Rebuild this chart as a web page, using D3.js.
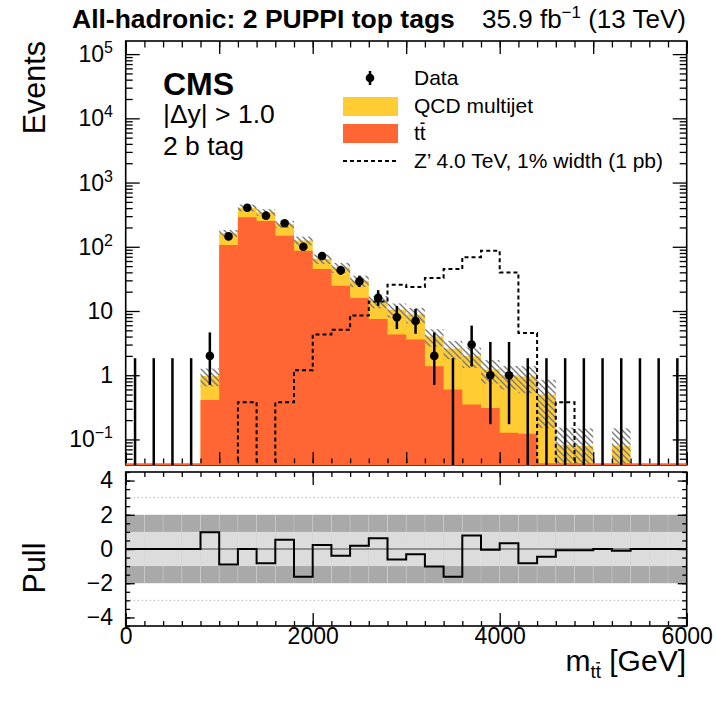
<!DOCTYPE html>
<html>
<head>
<meta charset="utf-8">
<script src="https://cdn.jsdelivr.net/npm/d3@7"></script>
<style>
  body { margin: 0; background: #fff; }
  svg { display: block; }
</style>
</head>
<body>
<svg id="chart" width="716" height="705"></svg>
<script>
// ---------------- data ----------------
const binLow = [0, 200, 400, 600, 800, 1000, 1200, 1400, 1600, 1800,
                2000, 2200, 2400, 2600, 2800, 3000, 3200, 3400, 3600, 3800,
                4000, 4200, 4400, 4600, 4800, 5000, 5200, 5400, 5600, 5800];
const binHigh = 6000;
const dataCounts = [0, 0, 0, 0, 2, 145, 405, 305, 232, 100,
                    72, 43, 29, 16, 8, 7, 2, 0, 3, 1,
                    1, 0, 0, 0, 0, 0, 0, 0, 0, 0];
const ttbar = [0, 0, 0, 0, 0.41, 107, 288, 252, 148, 87,
               45, 24.7, 15.9, 7.5, 4.3, 3.6, 1.38, 0.6, 0.35, 0.31,
               0.127, 0.123, 0, 0, 0, 0, 0, 0, 0, 0];
const qcd = [0, 0, 0, 0, 0.56, 56, 117, 92, 76, 38,
             20, 22.8, 13.6, 6.6, 6.2, 5.2, 2.62, 2.0, 1.65, 0.92,
             0.87, 0.83, 0.5, 0.083, 0.079, 0, 0.079, 0, 0, 0];
const bkgUnc = [0, 0, 0, 0, 0.3, 20, 50, 41, 29, 19,
                11, 8.5, 5.9, 3.1, 2.6, 2.4, 1.2, 0.83, 0.7, 0.49,
                0.4, 0.43, 0.35, 0.07, 0.07, 0, 0.07, 0, 0, 0];
const zprime = [0, 0, 0, 0, 0, 0, 0.38, 0, 0.38, 1.2,
                4.3, 5.1, 8.5, 14, 25.6, 23.6, 32.5, 45, 69, 86.5,
                39.7, 4.55, 0, 0.38, 0, 0, 0, 0, 0, 0];
const pull = [0, 0, 0, 0, 0.98, -0.9, 0, -0.83, 0.54, -1.62,
              0.23, -0.4, 0.19, 0.63, -0.62, -0.31, -1.02, -1.62, 0.79, -0.04,
              0.33, -0.83, -0.46, -0.08, -0.08, 0, -0.1, 0, 0, 0];
const xMajorUpper = [0, 1000, 2000, 3000, 4000, 5000, 6000];
const xLabelTicks = [0, 2000, 4000, 6000];
const yDecades = [-1, 0, 1, 2, 3, 4, 5];
const pullTicks = [-4, -2, 0, 2, 4];

// ---------------- layout ----------------
const FONT = '"Liberation Sans", Arial, Helvetica, sans-serif';
const YELLOW = '#ffcc33', RED = '#ff6633';
const X0 = 125.7, X1 = 686.7, T = 41, B = 465, PT = 472, PB = 626;
const yMin = 0.04, yMax = 1.6e5;

const svg = d3.select('#chart');
svg.append('rect').attr('width', 716).attr('height', 705).attr('fill', '#fff');

const x = d3.scaleLinear().domain([0, binHigh]).range([X0, X1]);
const y = d3.scaleLog().domain([yMin, yMax]).range([B, T]);
const yp = d3.scaleLinear().domain([-4.5, 4.5]).range([PB, PT]);
const yv = v => y(Math.min(Math.max(v, yMin), yMax));
const binHi = i => (i + 1 < binLow.length ? binLow[i + 1] : binHigh);

const defs = svg.append('defs');
defs.append('clipPath').attr('id', 'upClip').append('rect')
  .attr('x', X0).attr('y', T).attr('width', X1 - X0).attr('height', B - T);
const pat = defs.append('pattern').attr('id', 'hatch').attr('patternUnits', 'userSpaceOnUse')
  .attr('width', 6).attr('height', 6);
pat.append('path').attr('d', 'M0,0 L6,6 M-1,5 L1,7 M5,-1 L7,1')
  .attr('stroke', '#7a7a7a').attr('stroke-width', 1.4);

// ---------------- upper pad ----------------
const up = svg.append('g').attr('clip-path', 'url(#upClip)');
const total = qcd.map((q, i) => q + ttbar[i]);
const stepPts = (vals, from = 0) => binLow.slice(from).map((e, k) => ({ e, v: vals[from + k] }))
  .concat([{ e: binHigh, v: vals[vals.length - 1] }]);
const area = d3.area().x(d => x(d.e)).y0(B).y1(d => yv(d.v)).curve(d3.curveStepAfter);
up.append('path').attr('d', area(stepPts(total))).attr('fill', YELLOW);
up.append('path').attr('d', area(stepPts(ttbar))).attr('fill', RED);

// uncertainty hatch
up.selectAll('rect.unc').data(binLow.map((e, i) => i).filter(i => bkgUnc[i] > 0)).enter()
  .append('rect').attr('class', 'unc')
  .attr('x', i => x(binLow[i])).attr('width', i => x(binHi(i)) - x(binLow[i]))
  .attr('y', i => yv(total[i] + bkgUnc[i]))
  .attr('height', i => yv(total[i] - bkgUnc[i]) - yv(total[i] + bkgUnc[i]))
  .attr('fill', 'url(#hatch)');

// axis tick helpers
function xTicks(yPos, orient, values, size, scaleX) {
  const ax = (orient === 'bottom' ? d3.axisBottom(scaleX) : d3.axisTop(scaleX))
    .tickValues(values).tickSize(-size).tickFormat('');
  const gg = svg.append('g').attr('transform', `translate(0,${yPos})`).call(ax);
  gg.select('.domain').remove();
  gg.selectAll('line').attr('stroke', '#000').attr('stroke-width', 1.3);
  return gg;
}
function yTicks(xPos, orient, scaleY, values, size) {
  const ax = (orient === 'left' ? d3.axisLeft(scaleY) : d3.axisRight(scaleY))
    .tickValues(values).tickSize(-size).tickFormat('');
  const gg = svg.append('g').attr('transform', `translate(${xPos},0)`).call(ax);
  gg.select('.domain').remove();
  gg.selectAll('line').attr('stroke', '#000').attr('stroke-width', 1.3);
  return gg;
}
const xMinor = binLow.concat([binHigh]);
xTicks(B, 'bottom', xMinor, 6.5, x);
xTicks(B, 'bottom', xMajorUpper, 13, x);
xTicks(T, 'top', xMinor, 6.5, x);
xTicks(T, 'top', xMajorUpper, 13, x);
const yMajorVals = yDecades.map(p => Math.pow(10, p));
const yMinorVals = [];
[-2, -1, 0, 1, 2, 3, 4, 5].forEach(p => { for (let m = 2; m <= 9; m++) { const v = m * Math.pow(10, p); if (v > yMin && v < yMax) yMinorVals.push(v); } });
yTicks(X0, 'left', y, yMinorVals, 7);
yTicks(X0, 'left', y, yMajorVals, 14);
yTicks(X1, 'right', y, yMinorVals, 7);
yTicks(X1, 'right', y, yMajorVals, 14);

// Z' signal
const zline = d3.line().x(d => x(d.e)).y(d => yv(d.v)).curve(d3.curveStepAfter);
svg.append('g').attr('clip-path', 'url(#upClip)').append('path')
  .attr('d', zline(stepPts(zprime, 4)))
  .attr('fill', 'none').attr('stroke', '#000').attr('stroke-width', 2).attr('stroke-dasharray', '4,3');

// frame
svg.append('rect').attr('x', X0).attr('y', T).attr('width', X1 - X0).attr('height', B - T)
  .attr('fill', 'none').attr('stroke', '#000').attr('stroke-width', 1.6);
svg.append('line').attr('x1', X0).attr('x2', X1).attr('y1', B - 0.8).attr('y2', B - 0.8)
  .attr('stroke', RED).attr('stroke-width', 2);

// data (Garwood 68% intervals)
const lnF = [0]; for (let i = 1; i < 1000; i++) lnF[i] = lnF[i - 1] + Math.log(i);
function cdf(k, mu) { if (k < 0) return 0; let s = 0; for (let i = 0; i <= k; i++) s += Math.exp(-mu + i * Math.log(mu) - lnF[i]); return s; }
function garwood(n) {
  const a = 0.158655;
  let lo = n, hi = n + 6 * Math.sqrt(n + 1) + 10;
  for (let it = 0; it < 80; it++) { const m = (lo + hi) / 2; if (cdf(n, m) > a) lo = m; else hi = m; }
  const up = (lo + hi) / 2;
  let dn = 0;
  if (n > 0) {
    lo = 1e-9; hi = n;
    for (let it = 0; it < 80; it++) { const m = (lo + hi) / 2; if (cdf(n - 1, m) > 1 - a) lo = m; else hi = m; }
    dn = (lo + hi) / 2;
  }
  return [dn, up];
}
const dg = svg.append('g');
dataCounts.forEach((n, i) => {
  const cx = x((binLow[i] + binHi(i)) / 2);
  const [lo, hi] = garwood(n);
  dg.append('line').attr('x1', cx).attr('x2', cx)
    .attr('y1', n > 0 ? yv(lo) : B).attr('y2', yv(hi))
    .attr('stroke', '#000').attr('stroke-width', 2.5);
  if (n > 0) dg.append('circle').attr('cx', cx).attr('cy', yv(n)).attr('r', 4.3).attr('fill', '#000');
});

// y labels upper
yDecades.forEach(p => {
  const t = svg.append('text').attr('x', 113).attr('y', y(Math.pow(10, p)) + 8)
    .attr('text-anchor', 'end').attr('font-family', FONT).attr('font-size', 23).attr('fill', '#000');
  if (p === 0) t.text('1');
  else if (p === 1) t.text('10');
  else {
    t.append('tspan').text('10');
    t.append('tspan').attr('font-size', 16).attr('dy', -9).text(p < 0 ? '\u2212' + (-p) : String(p));
  }
});

// ---------------- pull pad ----------------
const pg = svg.append('g');
binLow.forEach((e, i) => {
  pg.append('rect').attr('x', x(e)).attr('width', x(binHi(i)) - x(e))
    .attr('y', yp(2)).attr('height', yp(-2) - yp(2)).attr('fill', '#a9a9a9');
  pg.append('rect').attr('x', x(e)).attr('width', x(binHi(i)) - x(e))
    .attr('y', yp(1)).attr('height', yp(-1) - yp(1)).attr('fill', '#dcdcdc');
});
binLow.slice(1).forEach(e => {
  pg.append('line').attr('x1', x(e)).attr('x2', x(e)).attr('y1', yp(2)).attr('y2', yp(-2))
    .attr('stroke', '#fff').attr('stroke-opacity', 0.18).attr('stroke-width', 1);
});
[3, -3].forEach(v => {
  pg.append('line').attr('x1', X0).attr('x2', X1).attr('y1', yp(v)).attr('y2', yp(v))
    .attr('stroke', '#b8b8b8').attr('stroke-width', 1).attr('stroke-dasharray', '1.5,2.5');
});
pg.append('line').attr('x1', X0).attr('x2', X1).attr('y1', yp(0)).attr('y2', yp(0))
  .attr('stroke', '#444').attr('stroke-width', 1);
const pline = d3.line().x(d => x(d.e)).y(d => yp(d.v)).curve(d3.curveStepAfter);
pg.append('path').attr('d', pline(stepPts(pull))).attr('fill', 'none')
  .attr('stroke', '#000').attr('stroke-width', 2);

xTicks(PB, 'bottom', xMinor, 5, x);
const xLab = d3.axisBottom(x).tickValues(xLabelTicks).tickSize(-13).tickPadding(2).tickFormat(d3.format('d'));
const gxl = svg.append('g').attr('transform', `translate(0,${PB})`).call(xLab);
gxl.select('.domain').remove();
gxl.selectAll('line').attr('stroke', '#000').attr('stroke-width', 1.3);
gxl.selectAll('text').attr('font-family', FONT).attr('font-size', 23).attr('fill', '#000');
xTicks(PT, 'top', xMinor, 5, x);
xTicks(PT, 'top', xLabelTicks, 13, x);

const pMinor = d3.range(-4.5, 4.51, 0.5);
yTicks(X0, 'left', yp, pMinor, 4.5);
const yLab = d3.axisLeft(yp).tickValues(pullTicks).tickSize(-9).tickPadding(12.7);
const gyl = svg.append('g').attr('transform', `translate(${X0},0)`).call(yLab);
gyl.select('.domain').remove();
gyl.selectAll('line').attr('stroke', '#000').attr('stroke-width', 1.3);
gyl.selectAll('text').attr('font-family', FONT).attr('font-size', 23).attr('fill', '#000');
yTicks(X1, 'right', yp, pMinor, 4.5);
yTicks(X1, 'right', yp, pullTicks, 9);

svg.append('rect').attr('x', X0).attr('y', PT).attr('width', X1 - X0).attr('height', PB - PT)
  .attr('fill', 'none').attr('stroke', '#000').attr('stroke-width', 1.6);

// ---------------- texts ----------------
function txt(xp, yp_, s, size, opts = {}) {
  const t = svg.append('text').attr('x', xp).attr('y', yp_).attr('font-family', FONT)
    .attr('font-size', size).attr('fill', '#000').text(s);
  if (opts.anchor) t.attr('text-anchor', opts.anchor);
  if (opts.bold) t.attr('font-weight', 'bold');
  if (opts.rotate) t.attr('transform', `rotate(-90,${xp},${yp_})`);
  return t;
}
txt(72, 28, 'All-hadronic: 2 PUPPI top tags', 26.5, { bold: true });
const lumi = svg.append('text').attr('x', 686).attr('y', 28).attr('text-anchor', 'end')
  .attr('font-family', FONT).attr('font-size', 26).attr('fill', '#000');
lumi.append('tspan').text('35.9 fb');
lumi.append('tspan').attr('font-size', 17).attr('dy', -10).text('\u22121');
lumi.append('tspan').attr('dy', 10).text(' (13 TeV)');

txt(45, 41, 'Events', 30.5, { anchor: 'end', rotate: true });
txt(45, 568, 'Pull', 30.5, { anchor: 'middle', rotate: true });

txt(163, 95, 'CMS', 32, { bold: true });
txt(163, 123, '|\u0394y| > 1.0', 26.5);
txt(163, 155, '2 b tag', 26.5);

// x title with overlined subscript
const xt = svg.append('text').attr('x', 686).attr('y', 671).attr('text-anchor', 'end')
  .attr('font-family', FONT).attr('font-size', 30).attr('fill', '#000');
xt.append('tspan').text('m');
xt.append('tspan').attr('font-size', 19).attr('dy', 7).text('tt');
xt.append('tspan').attr('dy', -7).text(' [GeV]');
function overline(textNode, idx, baseline, size) {
  const ext = textNode.getExtentOfChar(idx);
  svg.append('line').attr('x1', ext.x + size * 0.03).attr('x2', ext.x + ext.width - size * 0.05)
    .attr('y1', baseline - size * 0.8).attr('y2', baseline - size * 0.8)
    .attr('stroke', '#000').attr('stroke-width', Math.max(1, size * 0.07));
}
overline(xt.node(), 2, 678, 19);

// legend
const LX = 343, LW = 55, TX = 414;
svg.append('line').attr('x1', 370).attr('x2', 370).attr('y1', 71).attr('y2', 85)
  .attr('stroke', '#000').attr('stroke-width', 2.5);
svg.append('circle').attr('cx', 370).attr('cy', 78).attr('r', 4.3).attr('fill', '#000');
txt(TX, 85, 'Data', 21);
svg.append('rect').attr('x', LX).attr('y', 97).attr('width', LW).attr('height', 19).attr('fill', YELLOW);
txt(TX, 113, 'QCD multijet', 21);
svg.append('rect').attr('x', LX).attr('y', 124).attr('width', LW).attr('height', 19).attr('fill', RED);
const ttl = txt(TX, 140, 'tt', 21);
overline(ttl.node(), 1, 140, 21);
svg.append('line').attr('x1', LX).attr('x2', LX + LW - 1).attr('y1', 161).attr('y2', 161)
  .attr('stroke', '#000').attr('stroke-width', 2).attr('stroke-dasharray', '4,3');
txt(TX, 168, 'Z\u2019 4.0 TeV, 1% width (1 pb)', 21);
</script>
</body>
</html>
